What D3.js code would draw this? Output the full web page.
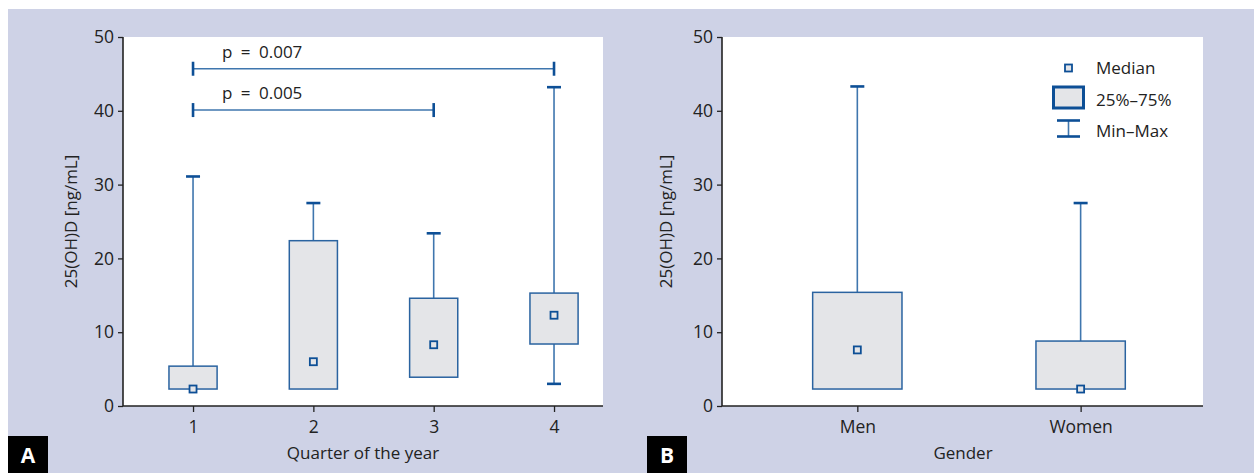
<!DOCTYPE html>
<html>
<head>
<meta charset="utf-8">
<script src="https://cdn.jsdelivr.net/npm/d3@7"></script>
<style>
  body { margin: 0; background: #fff; }
  text { font-family: "Open Sans", "Noto Sans", sans-serif; fill: #222; }
</style>
</head>
<body>
<div id="myGraph"></div>
<script>
// data
var quarters = ["1", "2", "3", "4"];
var qMin = [2.3, 2.3, 3.9, 3.0];
var qLow = [2.3, 2.3, 3.9, 8.4];
var qMedian = [2.3, 6.0, 8.3, 12.3];
var qHigh = [5.4, 22.4, 14.6, 15.3];
var qMax = [31.1, 27.5, 23.4, 43.2];

var genders = ["Men", "Women"];
var gMin = [2.3, 2.3];
var gLow = [2.3, 2.3];
var gMedian = [7.6, 2.3];
var gHigh = [15.4, 8.8];
var gMax = [43.3, 27.5];

var yTicks = [0, 10, 20, 30, 40, 50];

var sigFrom = [0, 0];
var sigTo = [3, 2];
var sigY = [45.7, 40.1];
var sigLabel = ["p = 0.007", "p = 0.005"];

var legendLabels = ["Median", "25%\u201375%", "Min\u2013Max"];

var W = 1254, H = 473;
var boxStroke = "#2a63a0", whisker = "#3f76ae", capColor = "#0d4f96", boxFill = "#e4e5e8";

var svg = d3.select("#myGraph").append("svg")
    .attr("width", W).attr("height", H);

svg.append("rect").attr("x", 8).attr("y", 9).attr("width", W - 8).attr("height", H - 9)
    .attr("fill", "#ced2e6");

var y = d3.scaleLinear().domain([0, 50]).range([406, 37]);

function panel(opt) {
  var x = d3.scaleLinear().domain(opt.xDomain).range([opt.left, opt.right]);
  var g = svg.append("g");
  g.append("rect").attr("x", opt.left).attr("y", 37)
      .attr("width", opt.right - opt.left).attr("height", 406 - 37).attr("fill", "#fff");

  var unit = x(1) - x(0);
  var bw = unit * 0.4;
  var n = opt.cats.length;
  var idx = d3.range(n);

  // whiskers
  g.selectAll(".wu").data(idx).enter().append("line")
      .attr("x1", function(i){ return x(i); }).attr("x2", function(i){ return x(i); })
      .attr("y1", function(i){ return y(opt.max[i]); }).attr("y2", function(i){ return y(opt.high[i]); })
      .attr("stroke", whisker).attr("stroke-width", 1.6);
  var lowIdx = idx.filter(function(i){ return opt.min[i] < opt.low[i]; });
  g.selectAll(".wl").data(lowIdx).enter().append("line")
      .attr("x1", function(i){ return x(i); }).attr("x2", function(i){ return x(i); })
      .attr("y1", function(i){ return y(opt.min[i]); }).attr("y2", function(i){ return y(opt.low[i]); })
      .attr("stroke", whisker).attr("stroke-width", 1.6);
  g.selectAll(".cu").data(idx).enter().append("line")
      .attr("x1", function(i){ return x(i) - 7; }).attr("x2", function(i){ return x(i) + 7; })
      .attr("y1", function(i){ return y(opt.max[i]); }).attr("y2", function(i){ return y(opt.max[i]); })
      .attr("stroke", capColor).attr("stroke-width", 2.6);
  g.selectAll(".cl").data(lowIdx).enter().append("line")
      .attr("x1", function(i){ return x(i) - 7; }).attr("x2", function(i){ return x(i) + 7; })
      .attr("y1", function(i){ return y(opt.min[i]); }).attr("y2", function(i){ return y(opt.min[i]); })
      .attr("stroke", capColor).attr("stroke-width", 2.6);

  // boxes
  g.selectAll(".box").data(idx).enter().append("rect")
      .attr("x", function(i){ return x(i) - bw / 2; })
      .attr("width", bw)
      .attr("y", function(i){ return y(opt.high[i]); })
      .attr("height", function(i){ return y(opt.low[i]) - y(opt.high[i]); })
      .attr("fill", boxFill).attr("stroke", boxStroke).attr("stroke-width", 1.5);

  // medians
  g.selectAll(".med").data(idx).enter().append("rect")
      .attr("x", function(i){ return x(i) - 3.5; })
      .attr("y", function(i){ return y(opt.median[i]) - 3.5; })
      .attr("width", 7).attr("height", 7)
      .attr("fill", boxFill).attr("stroke", capColor).attr("stroke-width", 1.8);

  // axes
  var ya = g.append("g").attr("transform", "translate(" + opt.left + ",0)")
      .call(d3.axisLeft(y).tickValues(yTicks).tickSize(5).tickPadding(4));
  var xa = g.append("g").attr("transform", "translate(0,406)")
      .call(d3.axisBottom(x).tickValues(idx).tickFormat(function(i){ return opt.cats[i]; })
            .tickSize(6).tickPadding(9));
  [ya, xa].forEach(function(a){
    a.select(".domain").attr("stroke", "#222").attr("stroke-width", 1.6);
    a.selectAll(".tick line").attr("stroke", "#222").attr("stroke-width", 1.3);
    a.selectAll(".tick text").style("font-size", "17.5px").attr("fill", "#222")
        .style("font-family", "'Open Sans', sans-serif");
  });
  xa.select(".domain").attr("d", "M" + opt.left + ",0H" + opt.right);
  ya.select(".domain").attr("d", "M0,406V37");

  g.append("text").attr("transform", "translate(" + opt.ytx + ",221.5) rotate(-90)")
      .attr("text-anchor", "middle").style("font-size", "17px").text("25(OH)D [ng/mL]");
  g.append("text").attr("x", opt.xtx).attr("y", 459)
      .attr("text-anchor", "middle").style("font-size", "17px").text(opt.xTitle);

  // panel letter
  g.append("rect").attr("x", opt.letterX).attr("y", 436).attr("width", 40).attr("height", 37)
      .attr("fill", "#000");
  g.append("text").attr("x", opt.letterX + 20).attr("y", 463).attr("text-anchor", "middle")
      .style("font-size", "21px").style("font-weight", "bold").style("fill", "#fff")
      .text(opt.letter);
  return { g: g, x: x };
}

var A = panel({
  cats: quarters, min: qMin, low: qLow, median: qMedian, high: qHigh, max: qMax,
  left: 123, right: 603, xDomain: [-0.582, 3.407],
  ytx: 77, xtx: 363, xTitle: "Quarter of the year", letter: "A", letterX: 8
});

// significance brackets
var sg = A.g.append("g");
sigY.forEach(function(v, k){
  var x1 = A.x(sigFrom[k]), x2 = A.x(sigTo[k]), yy = y(v);
  sg.append("line").attr("x1", x1).attr("x2", x2).attr("y1", yy).attr("y2", yy)
      .attr("stroke", whisker).attr("stroke-width", 1.6);
  [x1, x2].forEach(function(xx){
    sg.append("line").attr("x1", xx).attr("x2", xx).attr("y1", yy - 7).attr("y2", yy + 7)
        .attr("stroke", capColor).attr("stroke-width", 2.6);
  });
  sg.append("text").attr("x", x1 + 29).attr("y", yy - 11)
      .style("font-size", "17px").style("word-spacing", "4px").text(sigLabel[k]);
});

var B = panel({
  cats: genders, min: gMin, low: gLow, median: gMedian, high: gHigh, max: gMax,
  left: 722, right: 1203, xDomain: [-0.606, 1.548],
  ytx: 672, xtx: 963, xTitle: "Gender", letter: "B", letterX: 647
});

// legend
var lg = B.g.append("g");
lg.append("rect").attr("x", 1065).attr("y", 64.5).attr("width", 7).attr("height", 7)
    .attr("fill", boxFill).attr("stroke", capColor).attr("stroke-width", 1.8);
lg.append("rect").attr("x", 1053.5).attr("y", 87).attr("width", 30).attr("height", 21)
    .attr("fill", boxFill).attr("stroke", capColor).attr("stroke-width", 3);
lg.append("line").attr("x1", 1068.5).attr("x2", 1068.5).attr("y1", 120).attr("y2", 137)
    .attr("stroke", whisker).attr("stroke-width", 1.6);
[120.5, 136.5].forEach(function(yy){
  lg.append("line").attr("x1", 1057).attr("x2", 1080).attr("y1", yy).attr("y2", yy)
      .attr("stroke", capColor).attr("stroke-width", 2.6);
});
lg.selectAll(".lt").data(legendLabels).enter().append("text")
    .attr("x", 1096).attr("y", function(d, i){ return 74 + i * 31.5; })
    .style("font-size", "17px").text(function(d){ return d; });
</script>
</body>
</html>
